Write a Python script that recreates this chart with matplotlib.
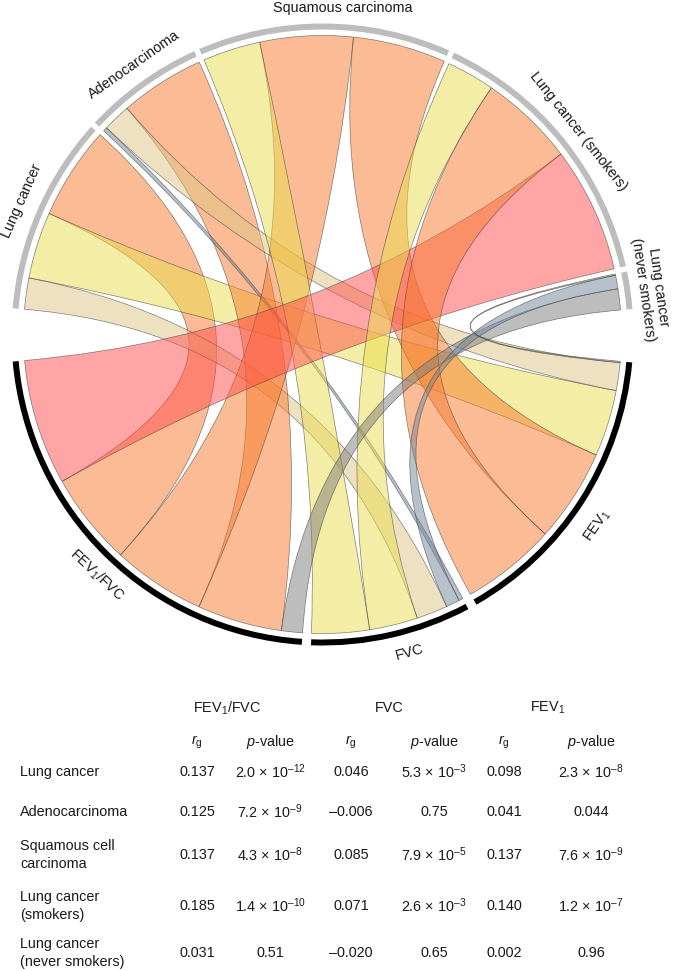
import numpy as np
import matplotlib
matplotlib.use('Agg')
import matplotlib.pyplot as plt
from matplotlib.path import Path
from matplotlib.patches import PathPatch, Wedge

plt.rcParams['font.family'] = ['Liberation Sans', 'DejaVu Sans']
plt.rcParams['mathtext.fontset'] = 'custom'
plt.rcParams['mathtext.rm'] = 'Liberation Sans'
plt.rcParams['mathtext.it'] = 'Liberation Sans:italic'
plt.rcParams['mathtext.bf'] = 'Liberation Sans:bold'

# ---------------- data ----------------
cancer_arc_labels = ['Lung cancer', 'Adenocarcinoma', 'Squamous carcinoma',
                     'Lung cancer (smokers)', 'Lung cancer\n(never smokers)']
cancer_table_labels = ['Lung cancer', 'Adenocarcinoma', 'Squamous cell\ncarcinoma',
                       'Lung cancer\n(smokers)', 'Lung cancer\n(never smokers)']
trait_labels = [r'FEV$_\mathregular{1}$/FVC', 'FVC', r'FEV$_\mathregular{1}$']

rg_fev1fvc = [0.137, 0.125, 0.137, 0.185, 0.031]
p_fev1fvc = ['2.0e-12', '7.2e-9', '4.3e-8', '1.4e-10', '0.51']
rg_fvc = [0.046, -0.006, 0.085, 0.071, -0.020]
p_fvc = ['5.3e-3', '0.75', '7.9e-5', '2.6e-3', '0.65']
rg_fev1 = [0.098, 0.041, 0.137, 0.140, 0.002]
p_fev1 = ['2.3e-8', '0.044', '7.6e-9', '1.2e-7', '0.96']

rg = np.array([rg_fev1fvc, rg_fvc, rg_fev1]).T   # rows: cancers, cols: traits
pvals = [p_fev1fvc, p_fvc, p_fev1]

# ---------------- layout ----------------
W, H = 673, 971
fig = plt.figure(figsize=(W / 100, H / 100), dpi=100)

CX, CY = 322.5, 334.5      # circle centre (px)
R_PX = 299.0               # chord radius (px)
L = 1.1
S = 2 * L * R_PX
ax = fig.add_axes([(CX - S / 2) / W, (H - CY - S / 2) / H, S / W, S / H])
ax.set_xlim(-L, L)
ax.set_ylim(-L, L)
ax.axis('off')

DEG_PER_UNIT = 132.0
START = 175.15
GAP_TOP, GAP_BIG, GAP_BOT = 1.0, 9.85, 1.7
bottom_order = [2, 1, 0]   # clockwise: FEV1, FVC, FEV1/FVC

absrg = np.abs(rg)
sectors = []  # (kind, index, start, end)
a = START
for i in range(rg.shape[0]):
    span = absrg[i].sum() * DEG_PER_UNIT
    sectors.append(('c', i, a, a - span))
    a -= span
    a -= GAP_TOP if i < rg.shape[0] - 1 else GAP_BIG
for n, j in enumerate(bottom_order):
    span = absrg[:, j].sum() * DEG_PER_UNIT
    sectors.append(('t', j, a, a - span))
    a -= span
    a -= GAP_BOT

# link sub-arcs: ascending |rg| clockwise
cw_trait = {j: n for n, j in enumerate(bottom_order)}
link_c = {}
link_t = {}
for kind, idx, s0, s1 in sectors:
    if kind == 'c':
        items = sorted(range(3), key=lambda j: (absrg[idx, j], -cw_trait[j]))
        pos = s0
        for j in items:
            w = absrg[idx, j] * DEG_PER_UNIT
            link_c[(idx, j)] = (pos, pos - w)
            pos -= w
    else:
        items = sorted(range(5), key=lambda i: (absrg[i, idx], -i))
        pos = s0
        for i in items:
            w = absrg[i, idx] * DEG_PER_UNIT
            link_t[(i, idx)] = (pos, pos - w)
            pos -= w


def color_for(v):
    if v < 0:
        return '#718599'
    if v < 0.035:
        return '#7D7D7D'
    if v < 0.05:
        return '#DFC585'
    if v < 0.1:
        return '#EBDD4D'
    if v < 0.15:
        return '#F97B2D'
    return '#FF4D4D'


def arc_pts(t0, t1, r=1.0, n=80):
    t = np.radians(np.linspace(t0, t1, n))
    return np.column_stack([r * np.cos(t), r * np.sin(t)])


for i in range(rg.shape[0]):
    for j in range(rg.shape[1]):
        a1, a2 = link_c[(i, j)]
        b1, b2 = link_t[(i, j)]
        pa = arc_pts(a1, a2)
        pb = arc_pts(b1, b2)
        verts = list(pa) + [(0, 0), tuple(pb[0])] + list(pb[1:]) + [(0, 0), tuple(pa[0]), tuple(pa[0])]
        codes = ([Path.MOVETO] + [Path.LINETO] * (len(pa) - 1) + [Path.CURVE3, Path.CURVE3]
                 + [Path.LINETO] * (len(pb) - 1) + [Path.CURVE3, Path.CURVE3, Path.CLOSEPOLY])
        col = matplotlib.colors.to_rgb(color_for(rg[i, j]))
        patch = PathPatch(Path(verts, codes), facecolor=(*col, 0.5),
                          edgecolor=(0.25, 0.25, 0.25, 0.65), lw=0.5)
        ax.add_patch(patch)

# outer tracks
R_OUT = 311 / R_PX
TW = 6 / R_PX
for kind, idx, s0, s1 in sectors:
    ax.add_patch(Wedge((0, 0), R_OUT, s1, s0, width=TW,
                       facecolor='#BDBDBD' if kind == 'c' else 'black', edgecolor='none'))

# sector labels
TXT = '#1a1a1a'
FS = 10.4
cancer_lab_ang = [156.0, 125.0, 86.4, 38.5, 8.0]
cancer_lab_rot = [66.0, 35.0, 0.0, -51.5, -82.0]
cancer_lab_r = [1.10, 1.10, 1.095, 1.093, 1.108]
for lab, ang, rot, r in zip(cancer_arc_labels, cancer_lab_ang, cancer_lab_rot, cancer_lab_r):
    t = np.radians(ang)
    ax.text(r * np.cos(t), r * np.sin(t), lab, rotation=rot, rotation_mode='anchor',
            ha='center', va='center', fontsize=FS, color=TXT, linespacing=1.15)

trait_lab_ang = {0: 226.8, 1: 285.4, 2: 325.2}
trait_lab_rot = {0: -43.2, 1: 15.4, 2: 55.2}
trait_lab_r = {0: 1.103, 1: 1.103, 2: 1.12}
for j in range(3):
    t = np.radians(trait_lab_ang[j])
    r = trait_lab_r[j]
    ax.text(r * np.cos(t), r * np.sin(t), trait_labels[j], rotation=trait_lab_rot[j],
            rotation_mode='anchor', ha='center', va='center', fontsize=FS, color=TXT)

# ---------------- table ----------------
def fx(x):
    return x / W


def fy(y):
    return 1 - y / H


def fmt_p(s):
    if 'e' in s:
        m, e = s.split('e')
        return m + ' \u00d7 10$^{\\mathregular{' + e.replace('-', '\u2013') + '}}$'
    return s


def fmt_r(v):
    s = '%.3f' % abs(v)
    return ('\u2013' + s) if v < 0 else s


header_x = [227, 389, 548]
rg_x = [197, 351, 504]
p_x = [270, 434, 591]
for j in range(3):
    fig.text(fx(header_x[j]), fy(708), trait_labels[j], ha='center', va='center',
             fontsize=FS, color=TXT)
    fig.text(fx(rg_x[j]), fy(742), r'$r_\mathregular{g}$', ha='center', va='center',
             fontsize=FS, color=TXT)
    fig.text(fx(p_x[j]), fy(742), r'$p$-value', ha='center', va='center',
             fontsize=FS, color=TXT)

row_y = [772, 812, 855, 906, 953]
for i in range(5):
    fig.text(fx(20), fy(row_y[i]), cancer_table_labels[i], ha='left', va='center',
             fontsize=FS, color=TXT, linespacing=1.42)
    for j in range(3):
        fig.text(fx(rg_x[j]), fy(row_y[i]), fmt_r(rg[i, j]), ha='center', va='center',
                 fontsize=FS, color=TXT)
        fig.text(fx(p_x[j]), fy(row_y[i]), fmt_p(pvals[j][i]), ha='center', va='center',
                 fontsize=FS, color=TXT)

fig.savefig('out.png', dpi=100)
